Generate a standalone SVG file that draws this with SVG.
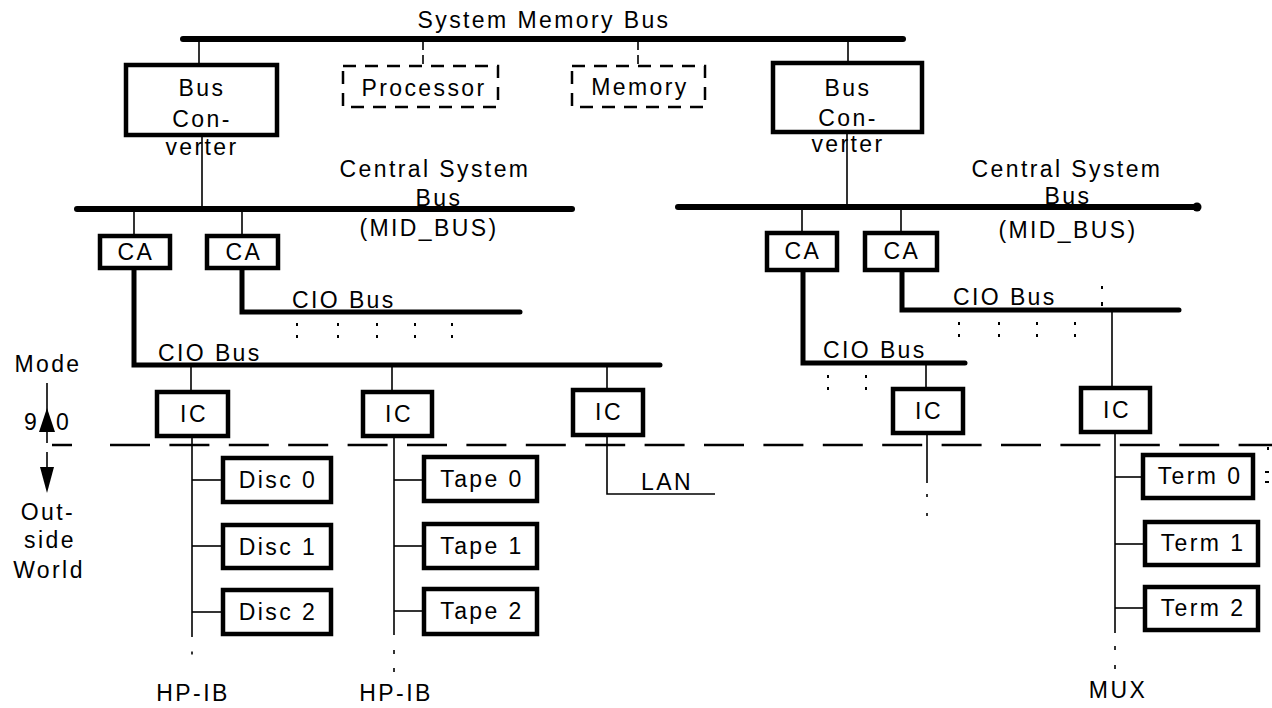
<svg xmlns="http://www.w3.org/2000/svg" width="1272" height="708" viewBox="0 0 1272 708">
<style>
.bus{stroke:#000;stroke-width:6;fill:none;stroke-linecap:round;stroke-linejoin:round}
.cio{stroke:#000;stroke-width:5;fill:none;stroke-linecap:round;stroke-linejoin:miter}
.thin{stroke:#000;stroke-width:1.6;fill:none}
.dthin{stroke:#000;stroke-width:1.6;fill:none;stroke-dasharray:9 5}
.box{fill:#fff;stroke:#000;stroke-width:4.5}
.dbox{fill:none;stroke:#000;stroke-width:2.5;stroke-dasharray:13 9}
.t{font-family:"Liberation Sans",Arial,Helvetica,sans-serif;font-size:23px;letter-spacing:2.4px;fill:#000}
.m{text-anchor:middle}
.dot{fill:#000}
</style>
<rect width="1272" height="708" fill="#fff"/>

<g id="connectors">
  <line class="bus" x1="183" y1="39" x2="903" y2="39"/>
  <line class="thin" x1="199" y1="39" x2="199" y2="65"/>
  <line class="dthin" x1="423" y1="41" x2="423" y2="66"/>
  <line class="dthin" x1="638" y1="41" x2="638" y2="66"/>
  <line class="thin" x1="848" y1="39" x2="848" y2="63"/>
  <line class="thin" x1="202" y1="135" x2="202" y2="209"/>
  <line class="thin" x1="847" y1="132" x2="847" y2="207"/>
  <line class="bus" x1="77" y1="209" x2="572" y2="209"/>
  <line class="bus" x1="678" y1="207" x2="1195" y2="207"/>
  <circle class="dot" cx="1197" cy="207" r="4.5"/>
  <line class="thin" x1="134" y1="209" x2="134" y2="236"/>
  <line class="thin" x1="242" y1="209" x2="242" y2="236"/>
  <line class="thin" x1="802" y1="207" x2="802" y2="233"/>
  <line class="thin" x1="901" y1="207" x2="901" y2="233"/>
  <polyline class="cio" points="134,268 134,365 660,365"/>
  <polyline class="cio" points="242,268 242,312 520,312"/>
  <polyline class="cio" points="803,270 803,363 965,363"/>
  <polyline class="cio" points="902,270 902,310 1179,310"/>
  <line class="thin" x1="191" y1="365" x2="191" y2="392"/>
  <line class="thin" x1="392" y1="365" x2="392" y2="392"/>
  <line class="thin" x1="607" y1="365" x2="607" y2="390"/>
  <line class="thin" x1="926" y1="363" x2="926" y2="389"/>
  <line class="thin" x1="1112" y1="310" x2="1112" y2="388"/>
  <line class="thin" x1="192" y1="436" x2="192" y2="637"/>
  <line class="thin" x1="192" y1="480" x2="223" y2="480"/>
  <line class="thin" x1="192" y1="546" x2="223" y2="546"/>
  <line class="thin" x1="192" y1="612" x2="223" y2="612"/>
  <rect class="dot" x="191.2" y="651.5" width="1.6" height="3"/>
  <line class="thin" x1="394" y1="436" x2="394" y2="635"/>
  <line class="thin" x1="394" y1="480" x2="424" y2="480"/>
  <line class="thin" x1="394" y1="546" x2="424" y2="546"/>
  <line class="thin" x1="394" y1="611" x2="424" y2="611"/>
  <rect class="dot" x="393.2" y="650" width="1.6" height="4"/>
  <rect class="dot" x="393.2" y="668" width="1.6" height="4"/>
  <polyline class="thin" points="607,435 607,494 715,494"/>
  <line class="thin" x1="927" y1="433" x2="927" y2="483"/>
  <rect class="dot" x="926.2" y="494" width="1.6" height="3"/>
  <rect class="dot" x="926.2" y="513" width="1.6" height="3"/>
  <line class="thin" x1="1115" y1="432" x2="1115" y2="633"/>
  <line class="thin" x1="1115" y1="477" x2="1143" y2="477"/>
  <line class="thin" x1="1115" y1="544" x2="1145" y2="544"/>
  <line class="thin" x1="1115" y1="608" x2="1145" y2="608"/>
  <rect class="dot" x="1114.2" y="646" width="1.6" height="4"/>
  <rect class="dot" x="1114.2" y="665" width="1.6" height="4"/>
  <line x1="52" y1="445" x2="72" y2="445" stroke="#000" stroke-width="2.5"/>
  <line x1="110" y1="445" x2="1272" y2="445" stroke="#000" stroke-width="2.5" stroke-dasharray="40 19.4"/>
  <line class="thin" x1="47" y1="383" x2="47" y2="443"/>
  <polygon class="dot" points="47,408 39,432 55,432"/>
  <line class="thin" x1="47" y1="452" x2="47" y2="470"/>
  <polygon class="dot" points="40,467 54,467 47,493"/>
</g>

<g id="dots">
  <g class="dot">
    <rect x="296" y="323" width="2" height="3"/><rect x="296" y="335" width="2" height="3"/>
    <rect x="337" y="323" width="2" height="3"/><rect x="337" y="335" width="2" height="3"/>
    <rect x="376" y="323" width="2" height="3"/><rect x="376" y="335" width="2" height="3"/>
    <rect x="414" y="323" width="2" height="3"/><rect x="414" y="335" width="2" height="3"/>
    <rect x="451" y="323" width="2" height="3"/><rect x="451" y="335" width="2" height="3"/>
    <rect x="827" y="375" width="2" height="3"/><rect x="827" y="387" width="2" height="3"/>
    <rect x="865" y="375" width="2" height="3"/><rect x="865" y="387" width="2" height="3"/>
    <rect x="958" y="322" width="2" height="3"/><rect x="958" y="334" width="2" height="3"/>
    <rect x="998" y="322" width="2" height="3"/><rect x="998" y="334" width="2" height="3"/>
    <rect x="1036" y="322" width="2" height="3"/><rect x="1036" y="334" width="2" height="3"/>
    <rect x="1074" y="322" width="2" height="3"/><rect x="1074" y="334" width="2" height="3"/>
    <rect x="1101" y="286" width="2" height="3"/><rect x="1101" y="302" width="2" height="4"/>
    <rect x="1267" y="447" width="2" height="3"/>
    <rect x="1265" y="471" width="4" height="2"/><rect x="1265" y="481" width="4" height="2"/>
  </g>
</g>

<g id="labels">
  <text class="t m" x="544" y="28">System Memory Bus</text>
  <text class="t m" x="435" y="177">Central System</text>
  <text class="t m" x="439" y="206">Bus</text>
  <text class="t m" x="429" y="236">(MID_BUS)</text>
  <text class="t m" x="1067" y="177">Central System</text>
  <text class="t m" x="1068" y="204">Bus</text>
  <text class="t m" x="1068" y="238">(MID_BUS)</text>
  <text class="t" x="292" y="308">CIO Bus</text>
  <text class="t" x="158" y="361">CIO Bus</text>
  <text class="t" x="823" y="358">CIO Bus</text>
  <text class="t" x="953" y="305">CIO Bus</text>
  <text class="t m" x="667" y="490">LAN</text>
  <text class="t m" x="193" y="701">HP-IB</text>
  <text class="t m" x="396" y="701">HP-IB</text>
  <text class="t m" x="1118" y="698">MUX</text>
  <text class="t m" x="48" y="372">Mode</text>
  <text class="t" x="24" y="430">9</text>
  <text class="t" x="56" y="430">0</text>
  <text class="t m" x="48" y="520">Out-</text>
  <text class="t m" x="50" y="548">side</text>
  <text class="t m" x="49" y="578">World</text>
</g>

<g id="bc-left"><rect class="box" x="126" y="65" width="151" height="70"/>
  <text class="t m" x="202" y="96">Bus</text><text class="t m" x="202" y="127">Con-</text><text class="t m" x="202" y="155">verter</text></g>
<g id="processor"><rect class="dbox" x="343" y="66" width="155" height="41"/><text class="t m" x="424" y="96">Processor</text></g>
<g id="memory"><rect class="dbox" x="572" y="66" width="133" height="41"/><text class="t m" x="640" y="95">Memory</text></g>
<g id="bc-right"><rect class="box" x="773" y="63" width="149" height="69"/>
  <text class="t m" x="848" y="96">Bus</text><text class="t m" x="848" y="126">Con-</text><text class="t m" x="848" y="152">verter</text></g>

<g id="ca1"><rect class="box" x="100" y="236" width="70" height="32"/><text class="t m" x="136" y="260">CA</text></g>
<g id="ca2"><rect class="box" x="207" y="236" width="71" height="32"/><text class="t m" x="244" y="260">CA</text></g>
<g id="ca3"><rect class="box" x="767" y="233" width="70" height="37"/><text class="t m" x="803" y="259">CA</text></g>
<g id="ca4"><rect class="box" x="865" y="233" width="72" height="37"/><text class="t m" x="902" y="259">CA</text></g>

<g id="ic1"><rect class="box" x="157" y="392" width="71" height="44"/><text class="t m" x="194" y="422">IC</text></g>
<g id="ic2"><rect class="box" x="363" y="392" width="69" height="44"/><text class="t m" x="399" y="422">IC</text></g>
<g id="ic3"><rect class="box" x="573" y="390" width="70" height="45"/><text class="t m" x="609" y="420">IC</text></g>
<g id="ic4"><rect class="box" x="893" y="389" width="70" height="44"/><text class="t m" x="929" y="419">IC</text></g>
<g id="ic5"><rect class="box" x="1081" y="388" width="69" height="44"/><text class="t m" x="1117" y="418">IC</text></g>

<g id="disc0"><rect class="box" x="223" y="458" width="108" height="44"/><text class="t m" x="278" y="488">Disc 0</text></g>
<g id="disc1"><rect class="box" x="223" y="525" width="108" height="43"/><text class="t m" x="278" y="555">Disc 1</text></g>
<g id="disc2"><rect class="box" x="223" y="590" width="108" height="44"/><text class="t m" x="278" y="620">Disc 2</text></g>
<g id="tape0"><rect class="box" x="424" y="457" width="113" height="44"/><text class="t m" x="482" y="487">Tape 0</text></g>
<g id="tape1"><rect class="box" x="424" y="524" width="113" height="44"/><text class="t m" x="482" y="554">Tape 1</text></g>
<g id="tape2"><rect class="box" x="424" y="589" width="113" height="45"/><text class="t m" x="482" y="619">Tape 2</text></g>
<g id="term0"><rect class="box" x="1143" y="455" width="110" height="43"/><text class="t m" x="1200" y="484">Term 0</text></g>
<g id="term1"><rect class="box" x="1145" y="522" width="113" height="43"/><text class="t m" x="1203" y="551">Term 1</text></g>
<g id="term2"><rect class="box" x="1145" y="587" width="113" height="43"/><text class="t m" x="1203" y="616">Term 2</text></g>
</svg>
